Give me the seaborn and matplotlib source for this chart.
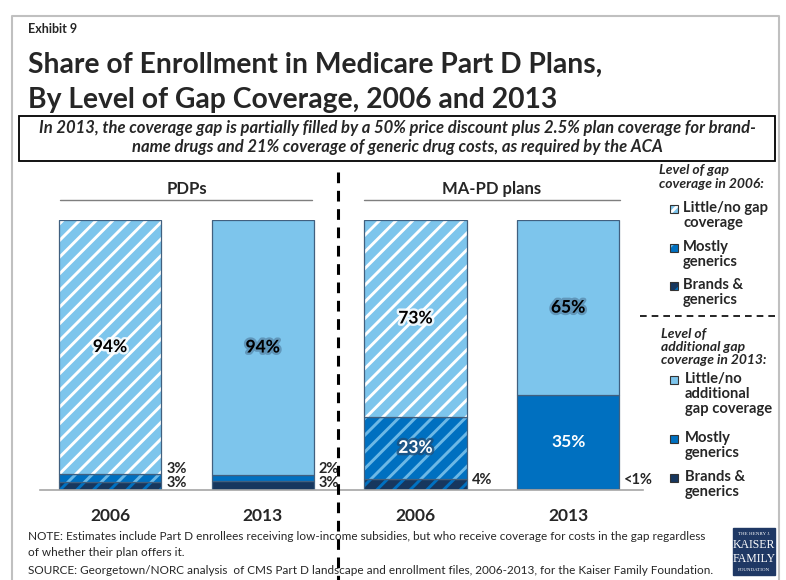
import matplotlib as mpl

mpl.use('Agg')
import matplotlib.pyplot as plt
import matplotlib.patheffects as pe
from matplotlib.patches import Rectangle
from matplotlib.lines import Line2D
import seaborn as sns

bars = ['PDPs 2006', 'PDPs 2013', 'MA-PD 2006', 'MA-PD 2013']
years = ['2006', '2013', '2006', '2013']
groups = ['PDPs', 'MA-PD plans']
little = [94.1, 94.4, 72.9, 64.9]
mostly = [2.8, 2.2, 23.0, 34.8]
brands = [3.1, 3.4, 4.1, 0.3]
little_lbl = ['94%', '94%', '73%', '65%']
mostly_lbl = ['3%', '2%', '23%', '35%']
brands_lbl = ['3%', '3%', '4%', '<1%']
hatched = [True, False, True, False]

title = ['Share of Enrollment in Medicare Part D Plans,',
         'By Level of Gap Coverage, 2006 and 2013']
subtitle = ['In 2013, the coverage gap is partially filled by a 50% price discount plus 2.5% plan coverage for brand-',
            'name drugs and 21% coverage of generic drug costs, as required by the ACA']
notes = ['NOTE: Estimates include Part D enrollees receiving low-income subsidies, but who receive coverage for costs in the gap regardless',
         'of whether their plan offers it.',
         'SOURCE: Georgetown/NORC analysis  of CMS Part D landscape and enrollment files, 2006-2013, for the Kaiser Family Foundation.']
leg_head = ['Level of gap\ncoverage in 2006:', 'Level of\nadditional gap\ncoverage in 2013:']
leg_2006 = ['Little/no gap\ncoverage', 'Mostly\ngenerics', 'Brands &\ngenerics']
leg_2013 = ['Little/no\nadditional\ngap coverage', 'Mostly\ngenerics', 'Brands &\ngenerics']

# colours
LIGHT, MED, DARK = '#7DC5EC', '#0070C0', '#17375E'
STRIPE = {LIGHT: 'white', MED: '#6CB8E6', DARK: '#0070C0'}
OUTLINE = '#41607F'

sns.set_style('white')
plt.rcParams['font.family'] = ['Lato', 'DejaVu Sans']
plt.rcParams['hatch.linewidth'] = 2.1

W, H = 786, 580
fig = plt.figure(figsize=(W / 100, H / 100), dpi=100)

# bar axes: baseline at y=490 px, 100% at y=220 px
ax = fig.add_axes([40 / W, (H - 490) / H, 603 / W, 270 / H])
ax.patch.set_alpha(0)

bottom = [0, 0, 0, 0]
for vals, col in [(brands, DARK), (mostly, MED), (little, LIGHT)]:
    for i, b in enumerate(bars):
        if hatched[i]:
            sns.barplot(x=[b], y=[vals[i]], order=bars, bottom=bottom[i], color=col, saturation=1,
                        width=0.67, hatch='//', edgecolor=STRIPE[col], linewidth=0, ax=ax)
        else:
            sns.barplot(x=[b], y=[vals[i]], order=bars, bottom=bottom[i], color=col, saturation=1,
                        width=0.67, linewidth=0, ax=ax)
        sns.barplot(x=[b], y=[vals[i]], order=bars, bottom=bottom[i], facecolor='none', saturation=1,
                    width=0.67, edgecolor=OUTLINE, linewidth=0.9, ax=ax)
    bottom = [bottom[k] + vals[k] for k in range(4)]

ax.set_xlim(-0.458, 3.49)
ax.set_ylim(0, 100)
ax.set_yticks([])
ax.set_xlabel('')
ax.set_ylabel('')
for s in ['top', 'left', 'right']:
    ax.spines[s].set_visible(False)
ax.spines['bottom'].set_color('#A6A6A6')
ax.spines['bottom'].set_linewidth(1.2)
ax.set_xticks(range(4))
ax.set_xticklabels(years, fontsize=12.5, fontweight='bold')
ax.tick_params(axis='x', length=0, pad=13)

# labels inside bars
glow_w = [pe.withStroke(linewidth=3.5, foreground='white', alpha=0.85)]
glow_d = [pe.withStroke(linewidth=3.5, foreground='#3D5F80', alpha=0.45)]
for i in range(4):
    yl = brands[i] + mostly[i] + little[i] / 2
    ax.text(i, yl, little_lbl[i], ha='center', va='center', fontsize=12.5, fontweight='bold',
            color='black', path_effects=glow_w if hatched[i] else glow_d)
for i in [2, 3]:
    ym = brands[i] + mostly[i] / 2
    ax.text(i, ym, mostly_lbl[i], ha='center', va='center', fontsize=12.5, fontweight='bold',
            color='white',
            path_effects=[pe.withStroke(linewidth=3.5, foreground='#1F4E79', alpha=0.8)] if hatched[i] else None)

# small labels to the right of bars (pixel nudges so they do not collide)
small = [(0, brands[0] + mostly[0] / 2, mostly_lbl[0], 9),
         (0, brands[0] / 2, brands_lbl[0], 2.5),
         (1, brands[1] + mostly[1] / 2, mostly_lbl[1], 8.5),
         (1, brands[1] / 2, brands_lbl[1], 2),
         (2, brands[2] / 2, brands_lbl[2], 4.5),
         (3, brands[3] / 2, brands_lbl[3], 10)]
for i, y, lbl, dy in small:
    ax.annotate(lbl, (i + 0.335, y), xytext=(5, dy), textcoords='offset pixels',
                ha='left', va='center', fontsize=10.5, fontweight='bold')

# overlay in pixel coordinates for the decorations
ov = fig.add_axes([0, 0, 1, 1])
ov.set_xlim(0, W)
ov.set_ylim(H, 0)
ov.axis('off')
ov.patch.set_alpha(0)

ov.add_line(Line2D([12, 12, 779, 779], [H, 16, 16, H], color='#C0C0C0', lw=1.5))
ov.text(28, 33, 'Exhibit 9', fontsize=9, fontweight='bold', va='baseline')
t1 = ov.text(28, 73, title[0], fontsize=22, fontweight='bold', va='baseline')
t2 = ov.text(28, 108, title[1], fontsize=22, fontweight='bold', va='baseline')

ov.add_patch(Rectangle((19, 116), 756, 45, fill=False, edgecolor='black', lw=1.3))
s1 = ov.text(397, 128, subtitle[0], ha='center', va='center', fontsize=10.5,
             fontweight='bold', fontstyle='italic')
s2 = ov.text(397, 147, subtitle[1], ha='center', va='center', fontsize=10.5,
             fontweight='bold', fontstyle='italic')

# group headers
for cx, x0, x1, g in [(186.5, 60, 312, groups[0]), (491.5, 364, 620, groups[1])]:
    ov.text(cx, 189, g, ha='center', va='center', fontsize=12, fontweight='bold')
    ov.add_line(Line2D([x0, x1], [200, 200], color='#7F7F7F', lw=1))

# divider
ov.add_line(Line2D([338, 338], [172, H], color='black', lw=2.2, ls=(0, (3.5, 2.5))))

# legend
ov.text(659, 177, leg_head[0], ha='left', va='center', fontsize=10, fontweight='bold',
        fontstyle='italic', linespacing=1.1)
ov.text(661, 347, leg_head[1], ha='left', va='center', fontsize=10, fontweight='bold',
        fontstyle='italic', linespacing=1.1)
ov.add_line(Line2D([640, 779], [316, 316], color='black', lw=1.2, ls=(0, (4, 3))))
for y, lbl, col in zip([209, 248, 286], leg_2006, [LIGHT, MED, DARK]):
    ov.add_patch(Rectangle((670, y - 4), 8, 8, facecolor=col, hatch='//', edgecolor=STRIPE[col], lw=0))
    ov.add_patch(Rectangle((670, y - 4), 8, 8, fill=False, edgecolor='#333333', lw=0.8))
    ov.text(683, y - 8, lbl, ha='left', va='top', fontsize=10.6, fontweight='bold', linespacing=1.1)
for y, lbl, col in zip([380, 439, 478], leg_2013, [LIGHT, MED, DARK]):
    ov.add_patch(Rectangle((670, y - 4), 8, 8, facecolor=col, edgecolor='#333333', lw=0.8))
    ov.text(685, y - 8, lbl, ha='left', va='top', fontsize=10.6, fontweight='bold', linespacing=1.1)

# notes
n1 = ov.text(28, 537, notes[0], va='center', fontsize=8.5)
n2 = ov.text(28, 553, notes[1], va='center', fontsize=8.5)
n3 = ov.text(28, 570, notes[2], va='center', fontsize=8.5)

# logo
ov.add_patch(Rectangle((733, 528), 42, 47, color='#1F3864'))
for y, t, fs in [(534, 'THE HENRY J.', 3.6), (545, 'KAISER', 8.5), (559, 'FAMILY', 8.5), (570, 'FOUNDATION', 3.6)]:
    ov.text(754, y, t, ha='center', va='center', color='white', fontsize=fs, family='Liberation Serif')

# scale a few long lines to the widths they have in the exhibit
fig.canvas.draw()
r = fig.canvas.get_renderer()


def fit(t, target, others=()):
    w = t.get_window_extent(r).width
    fs = t.get_fontsize() * target / w
    for o in (t,) + tuple(others):
        o.set_fontsize(fs)


fit(t1, 572, (t2,))
fit(s1, 718, (s2,))
fit(n1, 678, (n2, n3))

fig.savefig('out.png', dpi=100)
